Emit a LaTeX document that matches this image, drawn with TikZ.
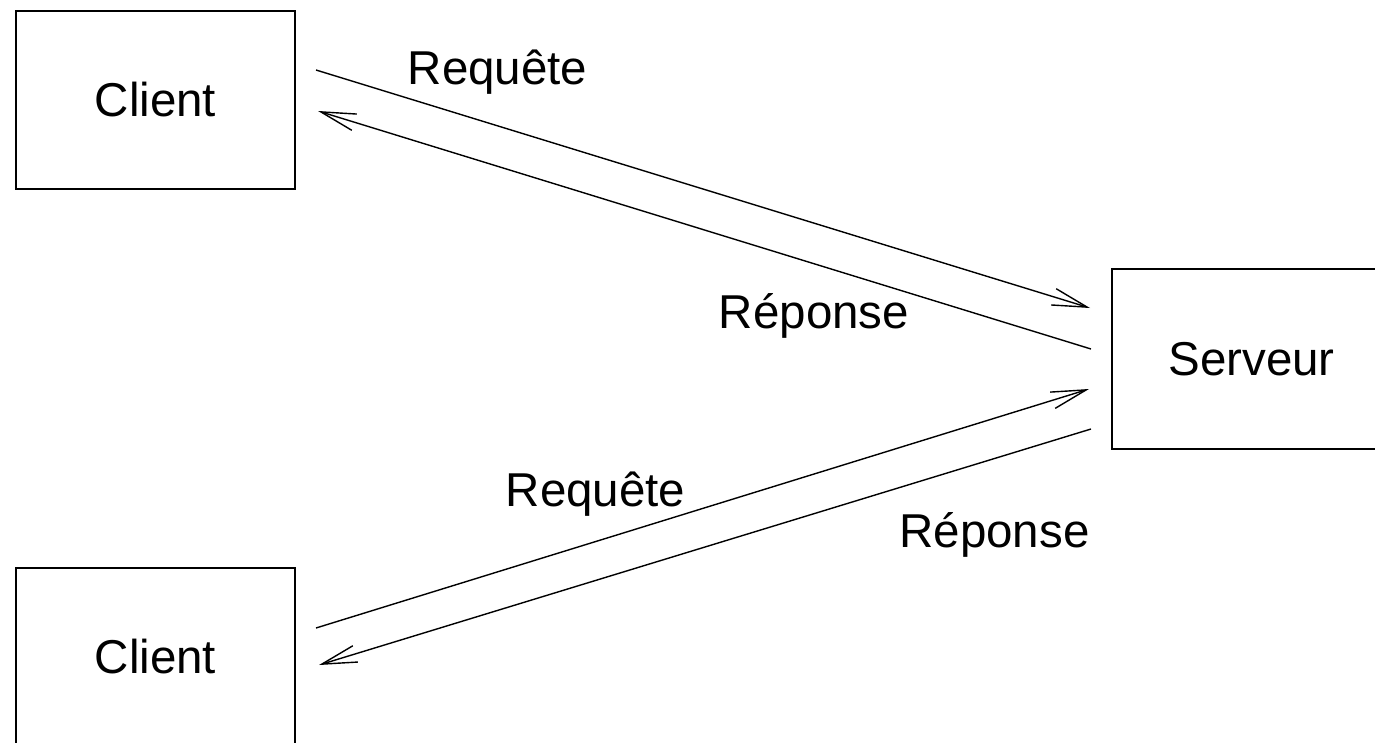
\documentclass[tikz,border=0pt]{standalone}
\usepackage{fontspec}
\setmainfont{Liberation Sans}
\usetikzlibrary{arrows.meta,calc}

\begin{document}
\begin{tikzpicture}[x=1pt,y=-1pt,
  every node/.style={font=\fontsize{47.5}{57}\selectfont},
  hostbox/.style={draw,line width=2pt,rectangle,inner sep=0pt,
                  minimum width=279pt,minimum height=178pt},
  msg/.style={line width=1.4pt,-{Straight Barb[length=35pt,width=17pt,line width=1.4pt]}},
  lbl/.style={anchor=base,inner sep=0pt}]
  \useasboundingbox (0,0) rectangle (1375,742);
  \clip (0,0) rectangle (1375,742);

  % hosts
  \node[hostbox] (client1) at (155.5,100) {Client};
  \node[hostbox] (client2) at (155.5,657) {Client};
  \node[hostbox,minimum height=180pt] (server) at (1251.5,359) {Serveur};

  % end points of the exchanges
  \coordinate (q1s) at ($(client1.east)+(20,-30)$);
  \coordinate (r1e) at ($(client1.east)+(22,11)$);
  \coordinate (q1e) at ($(server.west)+(-21,-51)$);
  \coordinate (r1s) at ($(server.west)+(-20,-10)$);
  \coordinate (q2e) at ($(server.west)+(-22,30)$);
  \coordinate (r2s) at ($(server.west)+(-20,70)$);
  \coordinate (q2s) at ($(client2.east)+(20,-29)$);
  \coordinate (r2e) at ($(client2.east)+(23,8)$);

  % requests and responses
  \draw[msg] (q1s) -- (q1e);
  \draw[msg] (r1s) -- (r1e);
  \draw[msg] (q2s) -- (q2e);
  \draw[msg] (r2s) -- (r2e);

  % labels
  \node[lbl] (lq1) at (497.5,84) {Requête};
  \node[lbl] (lr1) at (814,328) {Réponse};
  \node[lbl] (lq2) at (595.5,506) {Requête};
  \node[lbl] (lr2) at (994.5,547) {Réponse};
\end{tikzpicture}
\end{document}
